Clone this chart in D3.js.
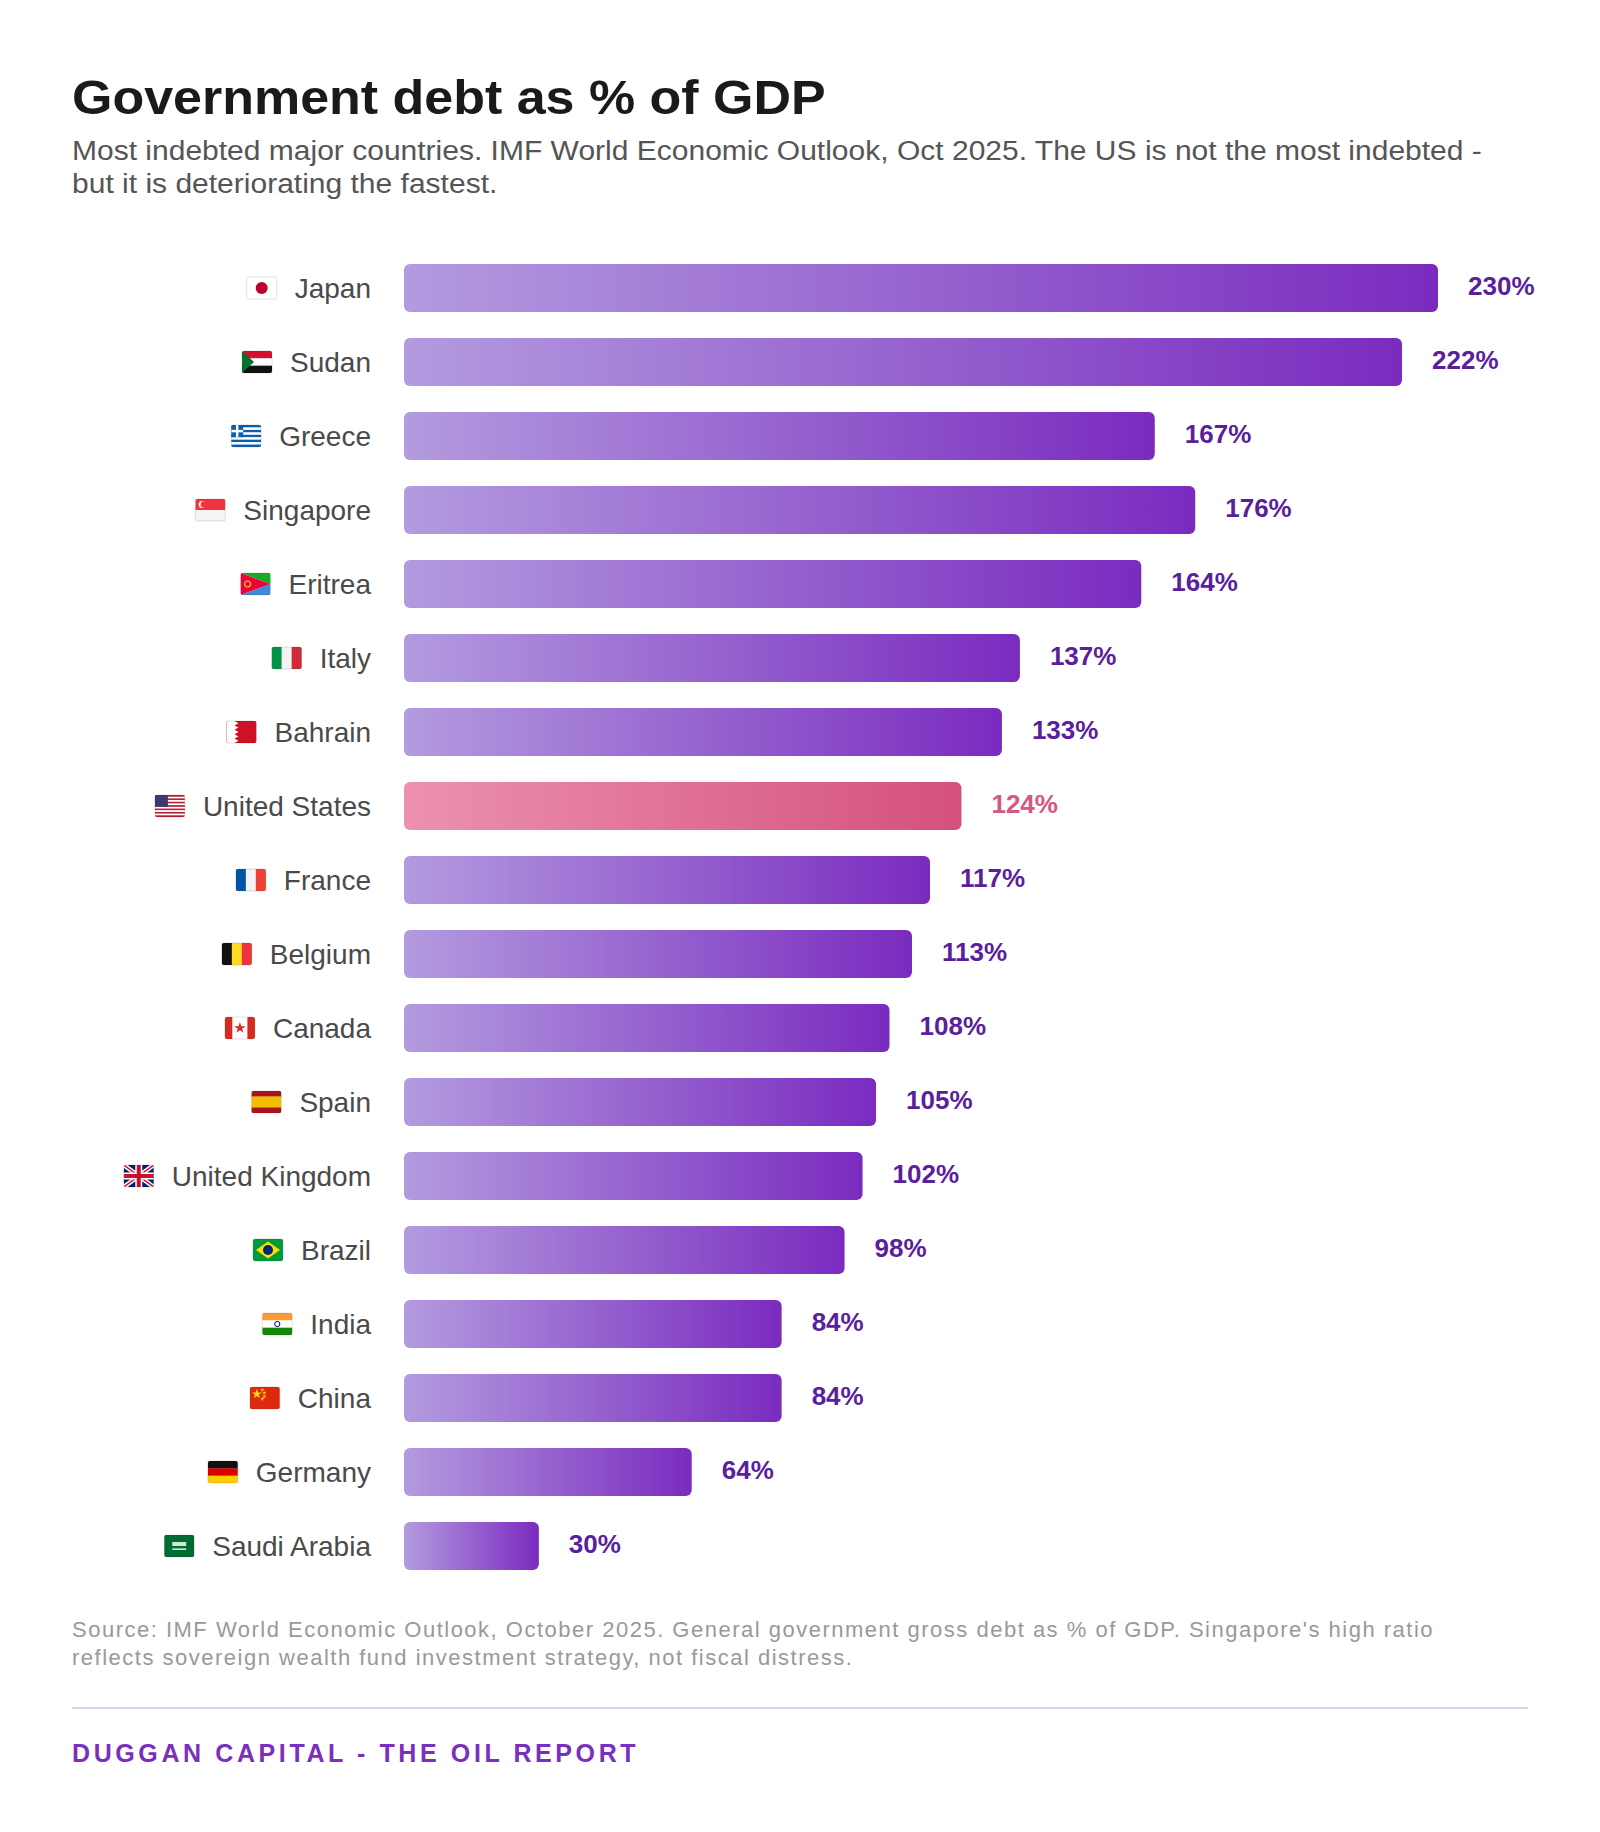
<!DOCTYPE html>
<html lang="en">
<head>
<meta charset="utf-8">
<title>Government debt as % of GDP</title>
<script src="https://cdn.jsdelivr.net/npm/d3@7"></script>
<style>
  body { margin: 0; background: #fff; }
  svg text { font-family: "Liberation Sans", Arial, sans-serif; }
</style>
</head>
<body>
<script>
// data
var countries = ["Japan", "Sudan", "Greece", "Singapore", "Eritrea", "Italy", "Bahrain",
    "United States", "France", "Belgium", "Canada", "Spain", "United Kingdom",
    "Brazil", "India", "China", "Germany", "Saudi Arabia"];
var debt = [230, 222, 167, 176, 164, 137, 133, 124, 117, 113, 108, 105, 102, 98, 84, 84, 64, 30];
var highlight = "United States";

var title = "Government debt as % of GDP";
var subtitle = ["Most indebted major countries. IMF World Economic Outlook, Oct 2025. The US is not the most indebted -",
    "but it is deteriorating the fastest."];
var source = ["Source: IMF World Economic Outlook, October 2025. General government gross debt as % of GDP. Singapore's high ratio",
    "reflects sovereign wealth fund investment strategy, not fiscal distress."];
var brand = "DUGGAN CAPITAL - THE OIL REPORT";

var width = 1600, height = 1832;
var left = 72;

var svg = d3.select("body").append("svg")
    .attr("width", width)
    .attr("height", height);

var defs = svg.append("defs");
function gradient(id, from, to) {
    var g = defs.append("linearGradient").attr("id", id)
        .attr("x1", "0%").attr("x2", "100%").attr("y1", "0%").attr("y2", "0%");
    g.append("stop").attr("offset", "0%").attr("stop-color", from);
    g.append("stop").attr("offset", "100%").attr("stop-color", to);
}
gradient("purple", "#b39bdf", "#7a2bbf");
gradient("pink", "#ec91ae", "#d4517b");

// header (the reference type is a little wider than Liberation, so stretch it)
svg.append("text")
    .attr("transform", "translate(" + left + ",114) scale(1.061,1)")
    .style("font-size", "49px").style("font-weight", "bold")
    .attr("fill", "#1a1a1a")
    .text(title);

svg.append("g").selectAll("text").data(subtitle).enter()
    .append("text")
    .attr("transform", function(d, i) { return "translate(" + left + "," + (160 + i * 33) + ") scale(1.072,1)"; })
    .style("font-size", "28px")
    .attr("fill", "#555")
    .text(function(d) { return d; });

// scales
var x = d3.scaleLinear().domain([0, 230]).range([404, 1438]);
var y = d3.scaleBand().domain(countries)
    .range([264, 264 + 17 * 74 + 48])
    .paddingInner(26 / 74);

var rows = svg.append("g").selectAll("g").data(countries).enter()
    .append("g")
    .attr("transform", function(d) { return "translate(0," + y(d) + ")"; });

rows.append("rect")
    .attr("x", x(0))
    .attr("y", 0)
    .attr("width", function(d, i) { return x(debt[i]) - x(0); })
    .attr("height", y.bandwidth())
    .attr("rx", 6)
    .attr("fill", function(d) { return d == highlight ? "url(#pink)" : "url(#purple)"; });

rows.append("text")
    .attr("x", function(d, i) { return x(debt[i]) + 30; })
    .attr("y", y.bandwidth() / 2)
    .attr("dy", "0.25em")
    .style("font-size", "26px").style("font-weight", "bold")
    .attr("fill", function(d) { return d == highlight ? "#d6577f" : "#5a1f9c"; })
    .text(function(d, i) { return debt[i] + "%"; });

var names = rows.append("text")
    .attr("x", 371)
    .attr("y", y.bandwidth() / 2)
    .attr("dy", "0.35em")
    .attr("text-anchor", "end")
    .style("font-size", "28px")
    .attr("fill", "#4a4a4a")
    .text(function(d) { return d; });

// flags, drawn as small svg pictures
var fw = 30, fh = 22;

function hStripes(g, colors, weights) {
    weights = weights || colors.map(function() { return 1; });
    var total = d3.sum(weights), acc = 0;
    colors.forEach(function(c, i) {
        g.append("rect").attr("x", 0).attr("y", acc / total * fh)
            .attr("width", fw).attr("height", weights[i] / total * fh + 0.3).attr("fill", c);
        acc += weights[i];
    });
}
function vStripes(g, colors, weights) {
    weights = weights || colors.map(function() { return 1; });
    var total = d3.sum(weights), acc = 0;
    colors.forEach(function(c, i) {
        g.append("rect").attr("y", 0).attr("x", acc / total * fw)
            .attr("height", fh).attr("width", weights[i] / total * fw + 0.3).attr("fill", c);
        acc += weights[i];
    });
}
function poly(g, pts, c) {
    g.append("polygon").attr("points", pts.map(function(p) { return p.join(","); }).join(" ")).attr("fill", c);
}
function star(g, cx, cy, size, c) {
    g.append("path").attr("d", d3.symbol(d3.symbolStar, size)())
        .attr("transform", "translate(" + cx + "," + cy + ")").attr("fill", c);
}

var flags = {
    "Japan": function(g) {
        g.append("rect").attr("width", fw).attr("height", fh).attr("fill", "#fff");
        g.append("circle").attr("cx", fw / 2).attr("cy", fh / 2).attr("r", 6).attr("fill", "#bc002d");
    },
    "Sudan": function(g) {
        hStripes(g, ["#d21034", "#fff", "#111"]);
        poly(g, [[0, 0], [12, fh / 2], [0, fh]], "#007229");
    },
    "Greece": function(g) {
        var c = [];
        for (var i = 0; i < 9; i++) c.push(i % 2 ? "#fff" : "#0d5eaf");
        hStripes(g, c);
        g.append("rect").attr("width", 12).attr("height", fh * 5 / 9).attr("fill", "#0d5eaf");
        g.append("rect").attr("x", 4.8).attr("width", 2.4).attr("height", fh * 5 / 9).attr("fill", "#fff");
        g.append("rect").attr("y", fh * 5 / 18 - 1.2).attr("width", 12).attr("height", 2.4).attr("fill", "#fff");
    },
    "Singapore": function(g) {
        hStripes(g, ["#ef3340", "#f4f4f4"]);
        g.append("circle").attr("cx", 7).attr("cy", 5.5).attr("r", 3.6).attr("fill", "#fff");
        g.append("circle").attr("cx", 8.6).attr("cy", 5.5).attr("r", 3.3).attr("fill", "#ef3340");
    },
    "Eritrea": function(g) {
        poly(g, [[0, 0], [fw, 0], [fw, fh / 2]], "#12ad2b");
        poly(g, [[0, fh], [fw, fh], [fw, fh / 2]], "#4189dd");
        poly(g, [[0, 0], [fw, fh / 2], [0, fh]], "#ea0437");
        g.append("circle").attr("cx", 7).attr("cy", fh / 2).attr("r", 3).attr("fill", "none")
            .attr("stroke", "#ffc726").attr("stroke-width", 1.2);
    },
    "Italy": function(g) { vStripes(g, ["#009246", "#f4f4f4", "#ce2b37"]); },
    "Bahrain": function(g) {
        g.append("rect").attr("width", fw).attr("height", fh).attr("fill", "#ce1126");
        var pts = [[0, 0], [8, 0]];
        for (var i = 1; i < 10; i++) pts.push([i % 2 ? 12 : 8, i * fh / 10]);
        pts.push([8, fh], [0, fh]);
        poly(g, pts, "#fff");
    },
    "United States": function(g) {
        var c = [];
        for (var i = 0; i < 13; i++) c.push(i % 2 ? "#fff" : "#b22234");
        hStripes(g, c);
        g.append("rect").attr("width", 13).attr("height", fh * 7 / 13).attr("fill", "#3c3b6e");
    },
    "France": function(g) { vStripes(g, ["#0055a4", "#f4f4f4", "#ef4135"]); },
    "Belgium": function(g) { vStripes(g, ["#111", "#fdda24", "#ef3340"]); },
    "Canada": function(g) {
        vStripes(g, ["#d52b1e", "#fff", "#d52b1e"], [1, 2, 1]);
        star(g, fw / 2, fh / 2, 40, "#d52b1e");
    },
    "Spain": function(g) { hStripes(g, ["#aa151b", "#f1bf00", "#aa151b"], [1, 2, 1]); },
    "United Kingdom": function(g) {
        g.append("rect").attr("width", fw).attr("height", fh).attr("fill", "#012169");
        var diag = [[0, 0, fw, fh], [0, fh, fw, 0]];
        diag.forEach(function(d) {
            g.append("line").attr("x1", d[0]).attr("y1", d[1]).attr("x2", d[2]).attr("y2", d[3])
                .attr("stroke", "#fff").attr("stroke-width", 4.5);
        });
        diag.forEach(function(d) {
            g.append("line").attr("x1", d[0]).attr("y1", d[1]).attr("x2", d[2]).attr("y2", d[3])
                .attr("stroke", "#c8102e").attr("stroke-width", 1.5);
        });
        g.append("rect").attr("x", fw / 2 - 3.5).attr("width", 7).attr("height", fh).attr("fill", "#fff");
        g.append("rect").attr("y", fh / 2 - 3.5).attr("width", fw).attr("height", 7).attr("fill", "#fff");
        g.append("rect").attr("x", fw / 2 - 2).attr("width", 4).attr("height", fh).attr("fill", "#c8102e");
        g.append("rect").attr("y", fh / 2 - 2).attr("width", fw).attr("height", 4).attr("fill", "#c8102e");
    },
    "Brazil": function(g) {
        g.append("rect").attr("width", fw).attr("height", fh).attr("fill", "#009c3b");
        poly(g, [[fw / 2, 2.5], [fw - 3, fh / 2], [fw / 2, fh - 2.5], [3, fh / 2]], "#ffdf00");
        g.append("circle").attr("cx", fw / 2).attr("cy", fh / 2).attr("r", 5).attr("fill", "#002776");
    },
    "India": function(g) {
        hStripes(g, ["#ff9933", "#fff", "#138808"]);
        g.append("circle").attr("cx", fw / 2).attr("cy", fh / 2).attr("r", 2.6).attr("fill", "none")
            .attr("stroke", "#000080").attr("stroke-width", 1);
    },
    "China": function(g) {
        g.append("rect").attr("width", fw).attr("height", fh).attr("fill", "#de2910");
        star(g, 7, 7, 30, "#ffde00");
        [[12.5, 3], [14.5, 6], [14.5, 9.5], [12.5, 12]].forEach(function(p) { star(g, p[0], p[1], 5, "#ffde00"); });
    },
    "Germany": function(g) { hStripes(g, ["#111", "#dd0000", "#ffce00"]); },
    "Saudi Arabia": function(g) {
        g.append("rect").attr("width", fw).attr("height", fh).attr("fill", "#006c35");
        g.append("rect").attr("x", 8).attr("y", 7).attr("width", 14).attr("height", 4).attr("fill", "#cfe6d8");
        g.append("rect").attr("x", 8).attr("y", 13.5).attr("width", 14).attr("height", 1.3).attr("fill", "#fff");
    }
};

names.each(function(d) {
    var w = this.getComputedTextLength();
    var g = d3.select(this.parentNode).append("g")
        .attr("transform", "translate(" + (371 - w - 18 - fw) + "," + (y.bandwidth() / 2 - fh / 2) + ")");
    var clipId = "clip-" + d.replace(/\s/g, "");
    defs.append("clipPath").attr("id", clipId)
        .append("rect").attr("width", fw).attr("height", fh).attr("rx", 2);
    var inner = g.append("g").attr("clip-path", "url(#" + clipId + ")");
    flags[d](inner);
    g.append("rect").attr("width", fw).attr("height", fh).attr("rx", 2)
        .attr("fill", "none").attr("stroke", "rgba(0,0,0,0.15)").attr("stroke-width", 0.8);
});

// footer
svg.append("g").selectAll("text").data(source).enter()
    .append("text")
    .attr("x", left)
    .attr("y", function(d, i) { return 1637 + i * 28; })
    .style("font-size", "22px")
    .style("letter-spacing", "1.5px")
    .attr("fill", "#999")
    .text(function(d) { return d; });

svg.append("line")
    .attr("x1", left).attr("x2", 1528)
    .attr("y1", 1708).attr("y2", 1708)
    .attr("stroke", "#ddd0ee").attr("stroke-width", 2);

svg.append("text")
    .attr("x", left).attr("y", 1762)
    .style("font-size", "25px").style("font-weight", "bold")
    .style("letter-spacing", "3.6px")
    .attr("fill", "#7b2fbe")
    .text(brand);
</script>
</body>
</html>
